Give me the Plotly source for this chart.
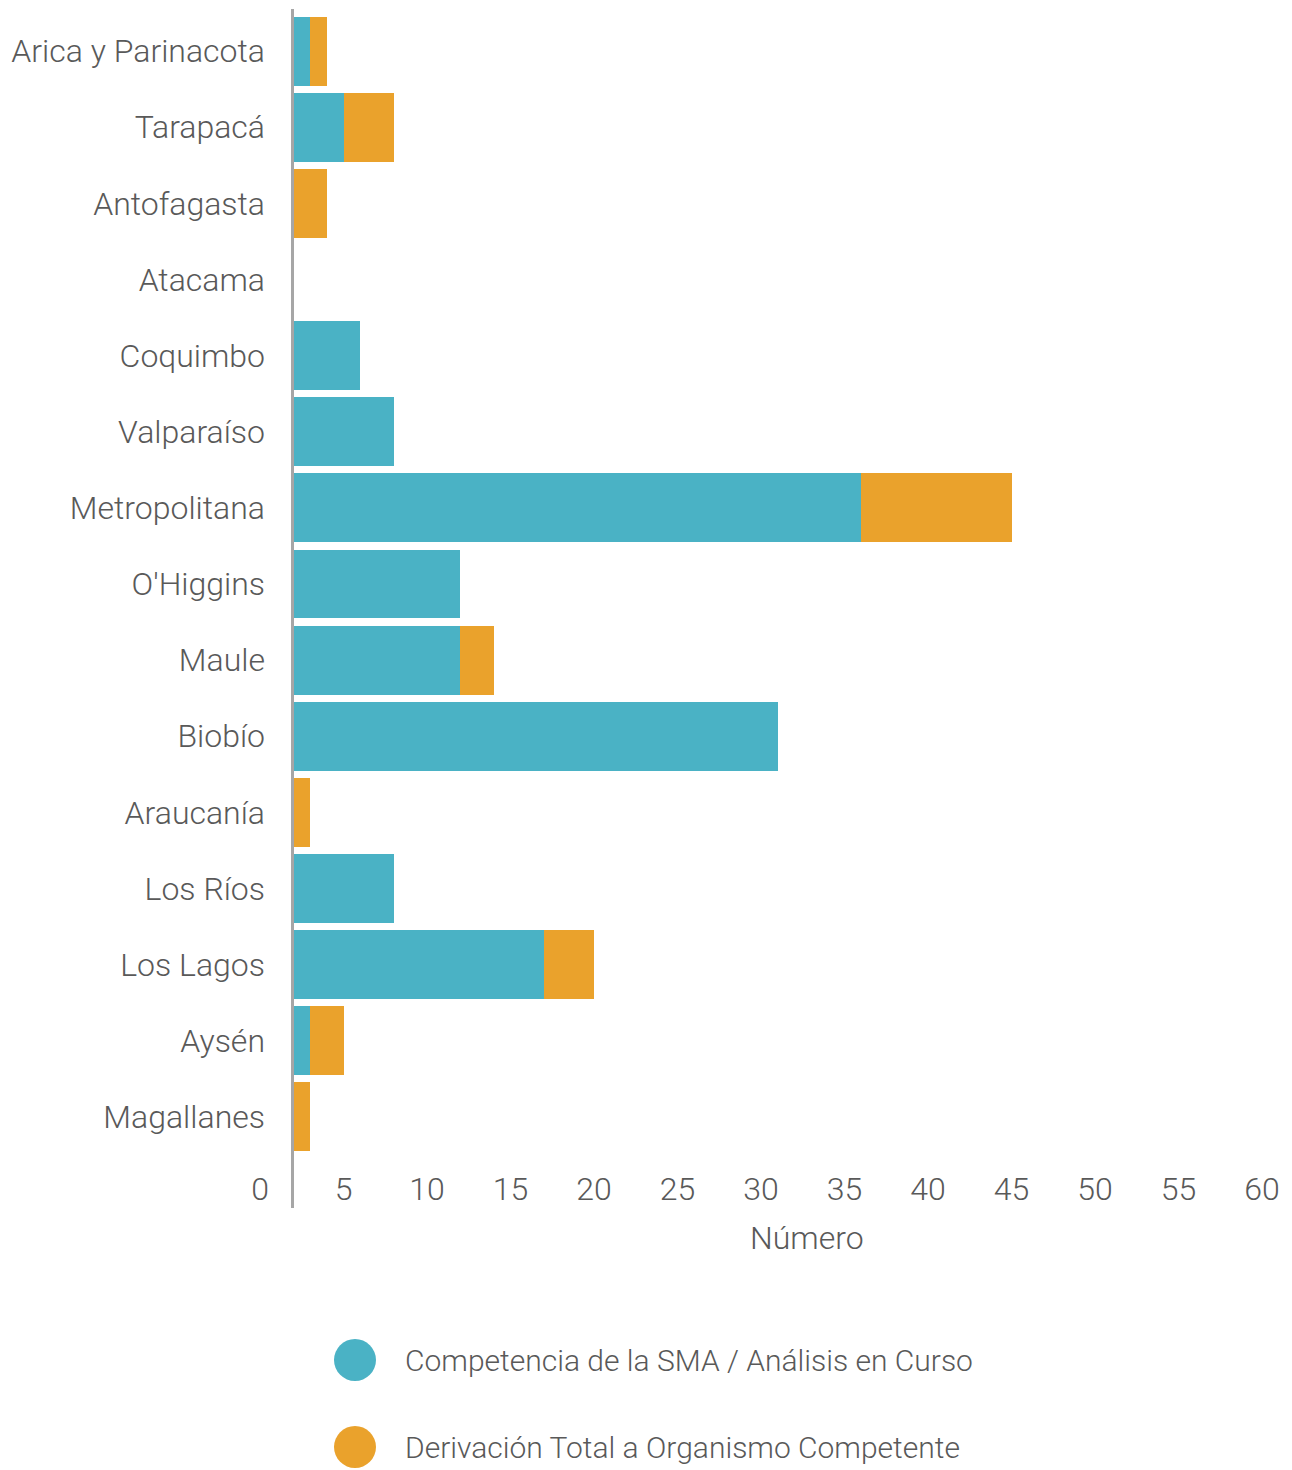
import plotly.graph_objects as go

regions = ["Arica y Parinacota", "Tarapacá", "Antofagasta", "Atacama", "Coquimbo",
           "Valparaíso", "Metropolitana", "O'Higgins", "Maule", "Biobío",
           "Araucanía", "Los Ríos", "Los Lagos", "Aysén", "Magallanes"]
competencia_sma = [3, 5, 0, 0, 6, 8, 36, 12, 12, 31, 0, 8, 17, 3, 0]
derivacion_total = [1, 3, 4, 0, 0, 0, 9, 0, 2, 0, 3, 0, 3, 2, 3]
series_names = ["Competencia de la SMA / Análisis en Curso",
                "Derivación Total a Organismo Competente"]
x_ticks = list(range(0, 61, 5))

TEAL = "#4AB2C5"
ORANGE = "#EAA22C"
TEXT = "#595959"
AXIS = "#A6A6A6"
FONT = "Roboto"

W, H = 1292, 1470
ML, MR, MT, MB = 260, 30, 13, 315
PW = W - ML - MR
PH = H - MT - MB
XMAX = 60

def px_x(p):
    return (p - ML) / PW

def px_y(p):
    return (H - MB - p) / PH

# visible bar area starts at the axis line
d0 = px_x(292)
x_start = XMAX * d0

fig = go.Figure()
for name, vals, col in [(series_names[0], competencia_sma, TEAL),
                        (series_names[1], derivacion_total, ORANGE)]:
    fig.add_trace(go.Bar(y=regions, x=vals, name=name, orientation="h",
                         marker=dict(color=col, line=dict(width=0)),
                         showlegend=False, hoverinfo="x+y+name"))
# empty trace so that the full-scale tick axis (0-60) is drawn
fig.add_trace(go.Bar(x=[], y=[], xaxis="x2", yaxis="y", orientation="h",
                     showlegend=False, hoverinfo="skip"))

line_pos = px_x(292.5)
shapes = [
    dict(type="line", xref="paper", yref="paper", x0=line_pos, x1=line_pos,
         y0=px_y(1208), y1=px_y(9), line=dict(color=AXIS, width=3), layer="above"),
]
annotations = [
    dict(text="Número", xref="paper", yref="paper", x=px_x(807), y=px_y(1238),
         xanchor="center", yanchor="middle", showarrow=False,
         font=dict(family=FONT, size=32, color=TEXT, weight=300)),
]
for i, (name, col) in enumerate(zip(series_names, [TEAL, ORANGE])):
    cy = [1360, 1447][i]
    shapes.append(dict(type="circle", xref="paper", yref="paper",
                       xsizemode="pixel", ysizemode="pixel",
                       xanchor=px_x(355), yanchor=px_y(cy),
                       x0=-21, x1=21, y0=-21, y1=21,
                       fillcolor=col, line=dict(width=0)))
    annotations.append(dict(text=name, xref="paper", yref="paper",
                            x=px_x(403), y=px_y(cy), xanchor="left", yanchor="middle",
                            showarrow=False,
                            font=dict(family=FONT, size=30, color=TEXT, weight=300)))

tickfont = dict(family=FONT, size=32, color=TEXT, weight=300)
fig.update_layout(
    width=W, height=H,
    margin=dict(l=ML, r=MR, t=MT, b=MB, autoexpand=False),
    barmode="stack", bargap=0.094,
    plot_bgcolor="rgba(0,0,0,0)", paper_bgcolor="white",
    font=dict(family=FONT, color=TEXT, weight=300),
    shapes=shapes, annotations=annotations,
    xaxis=dict(domain=[d0, 1], range=[x_start, XMAX], showticklabels=False,
               showgrid=False, zeroline=False, showline=False, ticks=""),
    xaxis2=dict(domain=[0, 1], range=[0, XMAX], anchor="y",
                tickvals=x_ticks, ticktext=[str(v) for v in x_ticks],
                showgrid=False, zeroline=False, showline=False, ticks="",
                tickfont=tickfont, ticklabelstandoff=12),
    yaxis=dict(type="category", categoryorder="array", categoryarray=regions,
               autorange="reversed", anchor="x",
               showgrid=False, zeroline=False, showline=False, ticks="",
               tickfont=tickfont, ticklabelstandoff=26),
)

fig.write_html("out.html", config={"displayModeBar": False},
               post_script="document.body.style.margin='0';")
